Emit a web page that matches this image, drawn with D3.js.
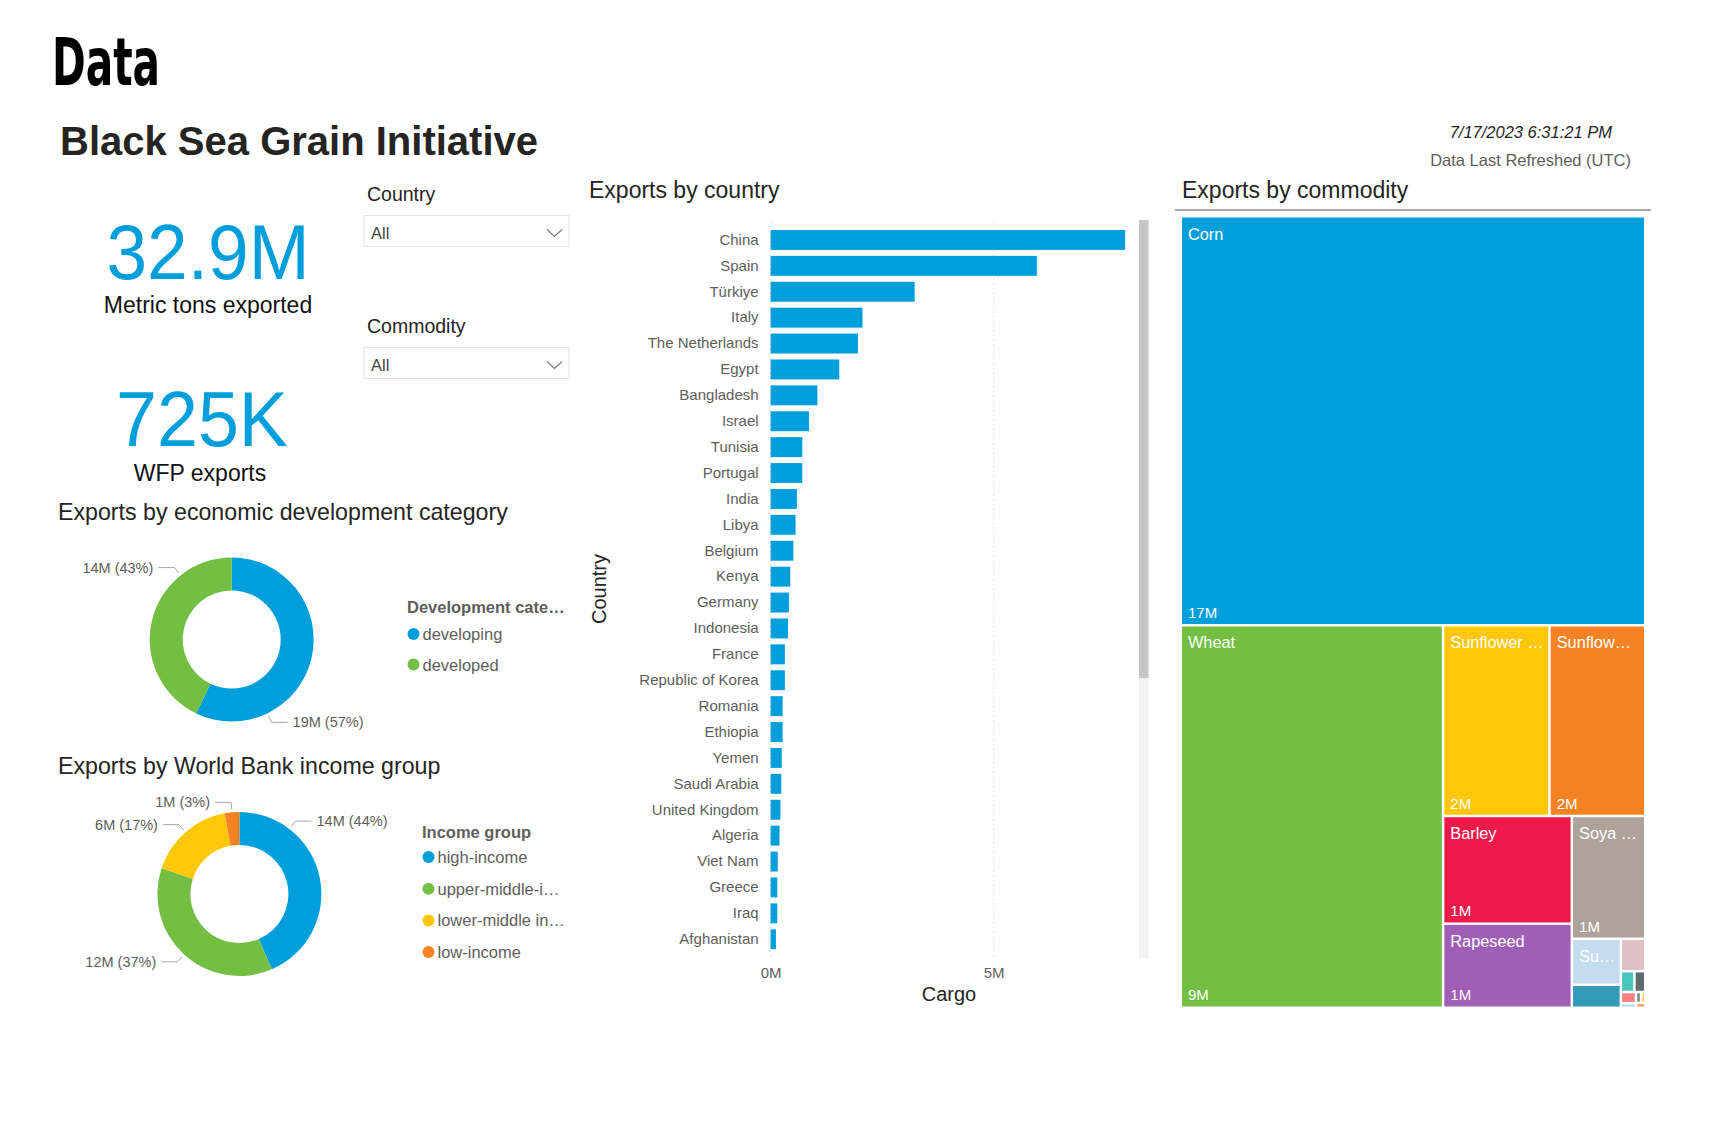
<!DOCTYPE html>
<html><head><meta charset="utf-8">
<script src="https://cdn.jsdelivr.net/npm/d3@7"></script>
<style>
body{margin:0;background:#fff;}
svg{display:block;font-family:"Liberation Sans",Arial,Helvetica,sans-serif;}
</style>
</head><body>
<svg id="c" width="1714" height="1140"></svg>
<script>
// ---------- DATA ----------
const countries = ["China","Spain","Türkiye","Italy","The Netherlands","Egypt","Bangladesh","Israel","Tunisia","Portugal","India","Libya","Belgium","Kenya","Germany","Indonesia","France","Republic of Korea","Romania","Ethiopia","Yemen","Saudi Arabia","United Kingdom","Algeria","Viet Nam","Greece","Iraq","Afghanistan"];
const countryCargo = [7.95,5.97,3.23,2.06,1.96,1.54,1.05,0.86,0.71,0.71,0.59,0.56,0.51,0.44,0.41,0.39,0.32,0.32,0.27,0.27,0.25,0.24,0.22,0.20,0.16,0.15,0.15,0.12];
const xTicks = [0, 5];

const devCategories = ["developing","developed"];
const devValues = [18.8, 14.1];

const incomeGroups = ["high-income","upper-middle-income","lower-middle income","low-income"];
const incomeValues = [14.3, 12.0, 5.6, 0.95];

const commodities = ["Corn","Wheat","Sunflower meal","Sunflower oil","Barley","Rapeseed","Soya beans","Sunflower seed","Peas","Wheat bran","Vegetable oil","Mixed","Sunflower pellets","Sugar beet pellets","Rapeseed meal","Soya oil","Canola"];
const commodityValues = [16.85,8.9,1.80,1.62,1.23,0.96,0.80,0.20,0.10,0.07,0.025,0.02,0.015,0.006,0.005,0.004,0.004];
const commodityColors = ["#009EDB","#72BF44","#FFC709","#F58323","#EF1A4B","#A05EB5","#AEA39B","#C5DCEF","#3599B8","#DFBFC2","#4AC5BB","#5F6B6D","#FB8281","#A4DDEE","#7F898A","#F4D25A","#FE9666"];

const kpiTotal = "32.9M", kpiWfp = "725K";
const refreshed = "7/17/2023 6:31:21 PM";

const BLUE = "#009EDB", GREEN = "#72BF44", YELLOW = "#FFC709", ORANGE = "#F58323";
const TXT = "#252423", GREY = "#605E5C";

const svg = d3.select("#c");

function fitText(sel, text, maxW) {
  sel.text(text);
  if (sel.node().getComputedTextLength() <= maxW) return;
  let t = text;
  while (t.length > 0) {
    t = t.slice(0, -1);
    sel.text(t + "…");
    if (sel.node().getComputedTextLength() <= maxW) return;
  }
}

// ---------- HEADER ----------
svg.append("text").attr("x", 52).attr("y", 85)
  .attr("font-family", "'Liberation Sans Narrow','DejaVu Sans Condensed',sans-serif")
  .attr("font-weight", 700).attr("font-size", 66).attr("fill", "#000")
  .attr("textLength", 108).attr("lengthAdjust", "spacingAndGlyphs").text("Data");
svg.append("text").attr("x", 60).attr("y", 155).attr("font-weight", 700)
  .attr("font-size", 40).attr("fill", TXT).text("Black Sea Grain Initiative");
svg.append("text").attr("x", 1612).attr("y", 138).attr("text-anchor", "end")
  .attr("font-style", "italic").attr("font-size", 16.5).attr("fill", TXT).text(refreshed);
svg.append("text").attr("x", 1631).attr("y", 166).attr("text-anchor", "end")
  .attr("font-size", 16.5).attr("fill", GREY).text("Data Last Refreshed (UTC)");

// ---------- KPIs ----------
svg.append("text").attr("x", 208).attr("y", 279).attr("text-anchor", "middle")
  .attr("font-size", 78).attr("fill", BLUE).attr("textLength", 203)
  .attr("lengthAdjust", "spacingAndGlyphs").text(kpiTotal);
svg.append("text").attr("x", 208).attr("y", 313).attr("text-anchor", "middle")
  .attr("font-size", 23).attr("fill", "#111").text("Metric tons exported");
svg.append("text").attr("x", 202).attr("y", 446).attr("text-anchor", "middle")
  .attr("font-size", 78).attr("fill", BLUE).attr("textLength", 172)
  .attr("lengthAdjust", "spacingAndGlyphs").text(kpiWfp);
svg.append("text").attr("x", 200).attr("y", 481).attr("text-anchor", "middle")
  .attr("font-size", 23).attr("fill", "#111").text("WFP exports");

// ---------- SLICERS ----------
function slicer(label, ly, by) {
  svg.append("text").attr("x", 367).attr("y", ly).attr("font-size", 19.5)
    .attr("fill", TXT).text(label);
  svg.append("rect").attr("x", 364).attr("y", by).attr("width", 205).attr("height", 31)
    .attr("fill", "#fff").attr("stroke", "#e3e3e3").attr("stroke-width", 1);
  svg.append("text").attr("x", 371).attr("y", by + 23).attr("font-size", 16.5)
    .attr("fill", "#444").text("All");
  svg.append("polyline")
    .attr("points", `547,${by+14} 554.5,${by+21} 562,${by+14}`)
    .attr("fill", "none").attr("stroke", "#777").attr("stroke-width", 1.1);
}
slicer("Country", 201, 215.5);
slicer("Commodity", 333, 347.5);

// ---------- DONUTS ----------
function donut(title, titleY, cx, cy, names, vals, colors, labelFrac, legendTitle, lx, lyTitle, lyItems, legendMax) {
  svg.append("text").attr("x", 58).attr("y", titleY).attr("font-size", 23.2)
    .attr("fill", TXT).text(title);
  const R = 82, r = 49;
  const total = d3.sum(vals);
  const pie = d3.pie().sort(null).value(d => d)(vals);
  const arc = d3.arc().innerRadius(r).outerRadius(R);
  const g = svg.append("g").attr("transform", `translate(${cx},${cy})`);
  g.selectAll("path").data(pie).join("path").attr("d", arc)
    .attr("fill", (d, i) => colors[i]);
  pie.forEach((d, i) => {
    const a = d.startAngle + labelFrac[i] * (d.endAngle - d.startAngle);
    const p1 = [Math.sin(a) * (R + 3), -Math.cos(a) * (R + 3)];
    const p2 = [Math.sin(a) * (R + 10), -Math.cos(a) * (R + 10)];
    const s = Math.sin(a) >= 0 ? 1 : -1;
    const p3 = [p2[0] + s * 16, p2[1]];
    g.append("polyline").attr("points", [p1, p2, p3].map(p => p.join(",")).join(" "))
      .attr("fill", "none").attr("stroke", "#a6a6a6").attr("stroke-width", 1);
    const pct = Math.round(vals[i] / total * 100);
    g.append("text").attr("x", p3[0] + s * 5).attr("y", p3[1] + 5)
      .attr("text-anchor", s > 0 ? "start" : "end").attr("font-size", 14.5)
      .attr("fill", GREY).text(`${Math.round(vals[i])}M (${pct}%)`);
  });
  const lt = svg.append("text").attr("x", lx).attr("y", lyTitle).attr("font-size", 16.5)
    .attr("font-weight", 700).attr("fill", GREY);
  fitText(lt, legendTitle, 160);
  names.forEach((n, i) => {
    svg.append("circle").attr("cx", lx + 6.5).attr("cy", lyItems[i]).attr("r", 6)
      .attr("fill", colors[i]);
    const t = svg.append("text").attr("x", lx + 15.5).attr("y", lyItems[i] + 6)
      .attr("font-size", 16.5).attr("fill", GREY);
    fitText(t, n, legendMax);
  });
}
donut("Exports by economic development category", 520, 231.7, 639.5,
  devCategories, devValues, [BLUE, GREEN], [0.75, 0.75],
  "Development category", 407, 613, [634, 664.5], 140);
donut("Exports by World Bank income group", 774, 239.4, 894,
  incomeGroups, incomeValues, [BLUE, GREEN, YELLOW, ORANGE], [0.24, 0.5, 0.5, 0.5],
  "Income group", 422, 838, [857, 888.7, 920.4, 952.1], 128);

// ---------- BAR CHART ----------
svg.append("text").attr("x", 589).attr("y", 198).attr("font-size", 23)
  .attr("fill", TXT).text("Exports by country");
const x = d3.scaleLinear().domain([0, 5]).range([770.6, 993.6]);
const y = d3.scaleBand().domain(countries).range([227, 952.2])
  .paddingInner(0.23).paddingOuter(0.115);
const bars = svg.append("g");
bars.selectAll("line.grid").data(xTicks).join("line").attr("class", "grid")
  .attr("x1", d => x(d)).attr("x2", d => x(d)).attr("y1", 222).attr("y2", 958)
  .attr("stroke", "#c8c8c8").attr("stroke-width", 1).attr("stroke-dasharray", "1.2,3.5");
bars.selectAll("rect").data(countries).join("rect")
  .attr("x", x(0)).attr("y", d => y(d))
  .attr("width", (d, i) => x(countryCargo[i]) - x(0)).attr("height", y.bandwidth())
  .attr("fill", BLUE);
const yAxis = svg.append("g").attr("transform", `translate(${x(0) - 12},0)`)
  .call(d3.axisLeft(y).tickSize(0).tickPadding(0));
yAxis.select(".domain").remove();
yAxis.selectAll("text").attr("font-size", 15).attr("fill", GREY)
  .attr("font-family", "'Liberation Sans',Arial,sans-serif");
const xAxis = svg.append("g").attr("transform", "translate(0,967)")
  .call(d3.axisBottom(x).tickValues(xTicks).tickSize(0).tickPadding(0).tickFormat(d => d + "M"));
xAxis.select(".domain").remove();
xAxis.selectAll("text").attr("font-size", 15).attr("fill", GREY).attr("dy", "0.71em")
  .attr("font-family", "'Liberation Sans',Arial,sans-serif");
svg.append("text").attr("x", 949).attr("y", 1001).attr("text-anchor", "middle")
  .attr("font-size", 20).attr("fill", TXT).text("Cargo");
svg.append("text").attr("transform", "translate(606,589) rotate(-90)")
  .attr("text-anchor", "middle").attr("font-size", 20).attr("fill", TXT).text("Country");
// scrollbar
svg.append("rect").attr("x", 1139).attr("y", 220).attr("width", 9.5).attr("height", 738)
  .attr("fill", "#f3f3f3");
svg.append("rect").attr("x", 1139).attr("y", 220).attr("width", 9.5).attr("height", 458)
  .attr("fill", "#c6c6c6");

// ---------- TREEMAP ----------
svg.append("text").attr("x", 1182).attr("y", 198).attr("font-size", 23)
  .attr("fill", TXT).text("Exports by commodity");
svg.append("line").attr("x1", 1175).attr("x2", 1651).attr("y1", 210).attr("y2", 210)
  .attr("stroke", "#8a8a8a").attr("stroke-width", 1.5);
const root = d3.hierarchy({children: commodities.map((n, i) => ({name: n, value: commodityValues[i], color: commodityColors[i]}))})
  .sum(d => d.value || 0);
d3.treemap().tile(d3.treemapSquarify).size([462, 789]).paddingInner(2.5).round(false)(root);
const tm = svg.append("g").attr("transform", "translate(1182,217.5)");
const cells = tm.selectAll("g").data(root.leaves()).join("g")
  .attr("transform", d => `translate(${d.x0},${d.y0})`);
cells.append("rect").attr("width", d => d.x1 - d.x0).attr("height", d => d.y1 - d.y0)
  .attr("fill", d => d.data.color);
cells.each(function(d) {
  const w = d.x1 - d.x0, h = d.y1 - d.y0;
  const c = d3.select(this);
  if (w > 30 && h > 30) {
    const t = c.append("text").attr("x", 6).attr("y", 22).attr("font-size", 16.3)
      .attr("fill", "#fff");
    fitText(t, d.data.name, w - 10);
  }
  if (w > 30 && h > 60) {
    c.append("text").attr("x", 6).attr("y", h - 6).attr("font-size", 15)
      .attr("fill", "#fff").text(Math.round(d.data.value) + "M");
  }
});
</script>
</body></html>
